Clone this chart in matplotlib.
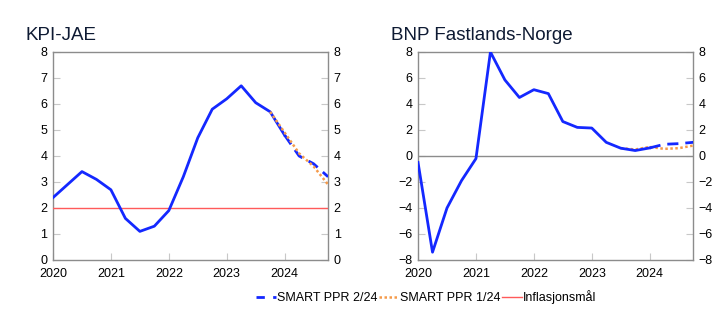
import numpy as np
import matplotlib.pyplot as plt

plt.rcParams['font.family'] = ['Liberation Sans', 'DejaVu Sans']

# kvartalsdata 2020K1 - 2024K4
kvartal = np.arange(2020, 2025, 0.25)

kpi_jae = [2.4, 2.9, 3.4, 3.1, 2.7, 1.6, 1.1, 1.3, 1.9, 3.2,
           4.7, 5.8, 6.2, 6.7, 6.05, 5.7, 4.8]
kpi_ppr2 = [4.8, 4.0, 3.7, 3.2]          # 2024K1 - 2024K4
kpi_ppr1 = [5.7, 4.9, 4.1, 3.6, 2.9]     # 2023K4 - 2024K4
inflasjonsmaal = 2

bnp = [-0.5, -7.4, -4.0, -1.9, -0.2, 8.0, 5.85, 4.5, 5.1, 4.8,
       2.65, 2.2, 2.15, 1.05, 0.6, 0.42, 0.62]
bnp_ppr2 = [0.62, 0.9, 0.95, 1.05]
bnp_ppr1 = [0.6, 0.5, 0.7, 0.55, 0.6, 0.8]   # 2023K3 - 2024K4

blaa = '#1428ff'
oransje = '#f59a4a'
rod = '#ff5a5a'
gra = '#8c8c8c'
tittelfarge = '#0e1a33'

fig = plt.figure(figsize=(7.22, 3.19), dpi=100)
ax1 = fig.add_axes([0.0734, 0.185, 0.381, 0.652])
ax2 = fig.add_axes([0.579, 0.185, 0.381, 0.652])


def pynt(ax, ylim, yticks):
    ax.set_xlim(2020, 2024.75)
    ax.set_ylim(*ylim)
    ax.set_xticks([2020, 2021, 2022, 2023, 2024])
    ax.set_yticks(yticks)
    ax.tick_params(axis='y', direction='in', length=5, color='#c8c8c8',
                   labelsize=9, right=True, labelright=True, pad=4)
    ax.tick_params(axis='x', direction='in', length=5, color='#c8c8c8',
                   labelsize=9, pad=6)
    for s in ax.spines.values():
        s.set_color(gra)
        s.set_linewidth(1)


# KPI-JAE
ax1.axhline(inflasjonsmaal, color=rod, lw=1, zorder=2.6)
ax1.plot(kvartal[:len(kpi_jae)], kpi_jae, color=blaa, lw=2, zorder=3)
ax1.plot(kvartal[16:20], kpi_ppr2, color=blaa, lw=2, ls=(0, (4, 2.5)), zorder=3)
ax1.plot(kvartal[15:20], kpi_ppr1, color=oransje, lw=1.8, ls=(0, (1, 1)), zorder=3)
pynt(ax1, (0, 8), range(0, 9))
fig.text(0.035, 0.875, 'KPI-JAE', fontsize=13.5, color=tittelfarge)

# BNP Fastlands-Norge
ax2.axhline(0, color=gra, lw=1, zorder=2.6)
ax2.plot(kvartal[:len(bnp)], bnp, color=blaa, lw=2, zorder=3)
ax2.plot(kvartal[16:20], bnp_ppr2, color=blaa, lw=2, ls=(0, (4, 2.5)), zorder=3)
ax2.plot(kvartal[14:20], bnp_ppr1, color=oransje, lw=1.8, ls=(0, (1, 1)), zorder=2.8)
pynt(ax2, (-8, 8), range(-8, 9, 2))
fig.text(0.542, 0.875, 'BNP Fastlands-Norge', fontsize=13.5, color=tittelfarge)

# felles forklaring
h1, = ax1.plot([], [], color=blaa, lw=2, ls=(0, (3, 3)), label='SMART PPR 2/24')
h2, = ax1.plot([], [], color=oransje, lw=1.8, ls=(0, (1, 1)), label='SMART PPR 1/24')
h3, = ax1.plot([], [], color=rod, lw=1, label='Inflasjonsmål')
fig.legend(handles=[h1, h2, h3], loc='center', bbox_to_anchor=(0.59, 0.068),
           ncol=3, frameon=False, fontsize=9, handlelength=1.6,
           handletextpad=0.1, columnspacing=0.1)

fig.savefig('out.png', dpi=100)
